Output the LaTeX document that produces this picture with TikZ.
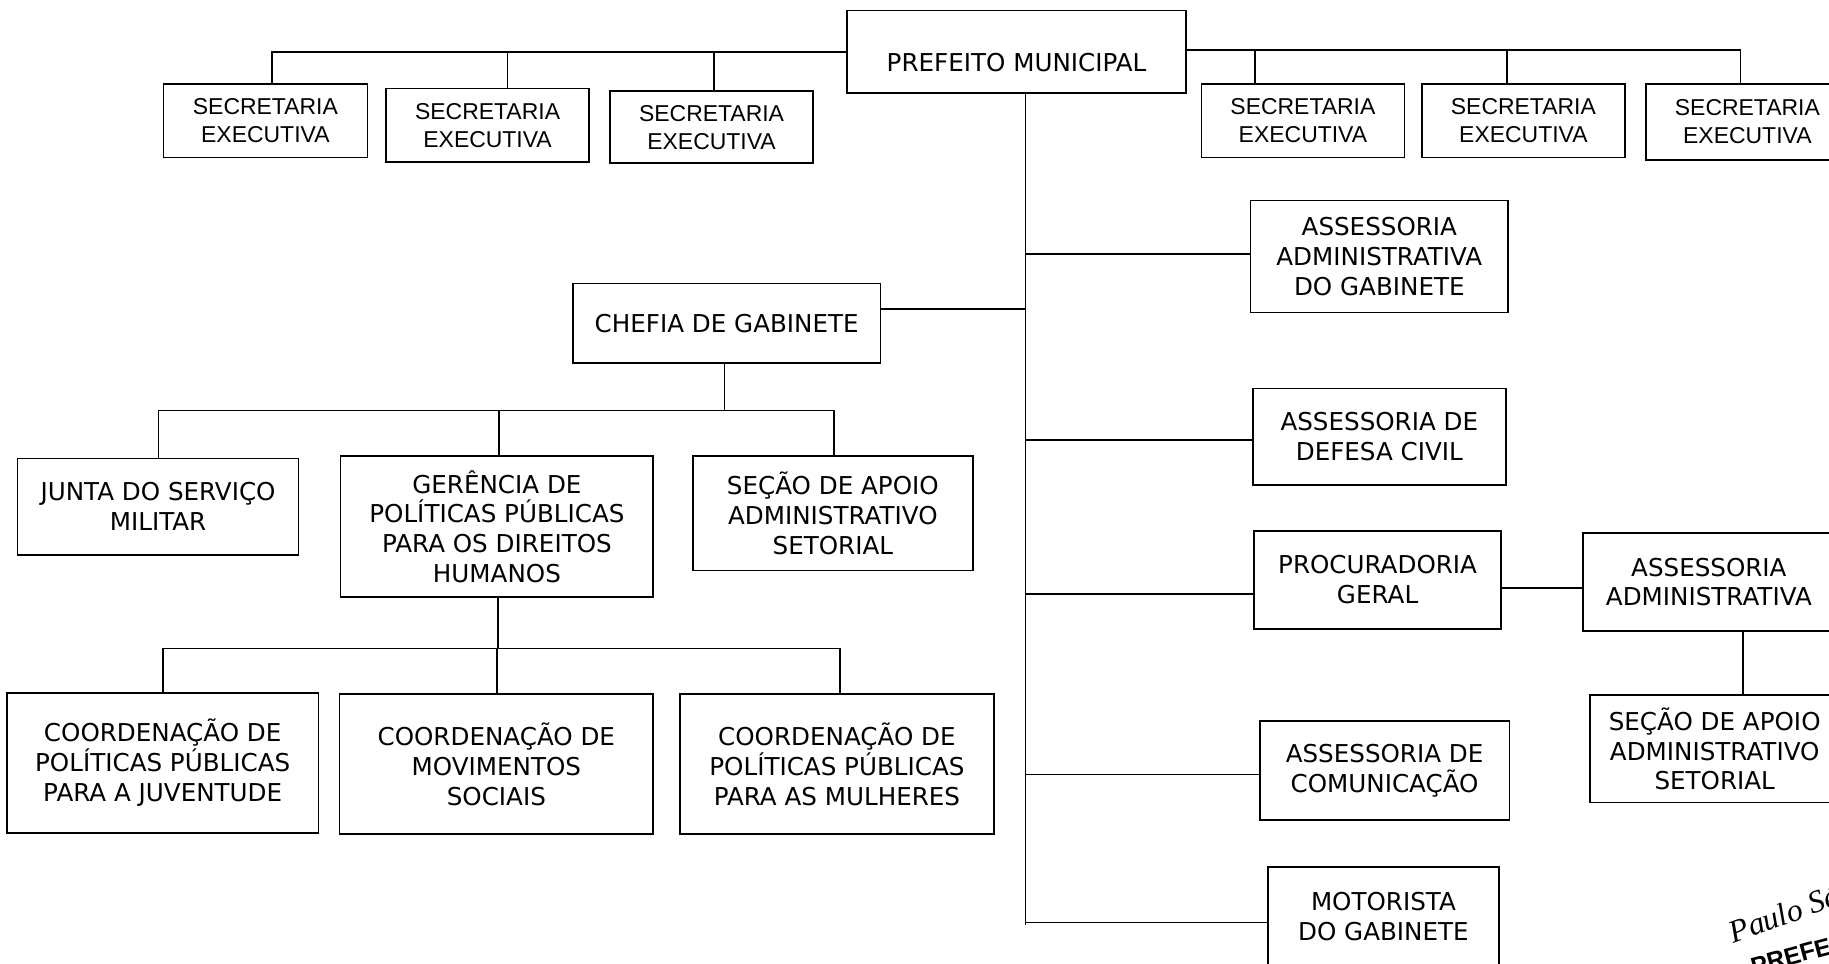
\documentclass[tikz,border=0pt]{standalone}
\usepackage{fontspec}
\newfontfamily\dvs{DejaVu Sans}
\newfontfamily\ars{Liberation Sans}
\newfontfamily\sigf{Liberation Serif}
\begin{document}
\begin{tikzpicture}[x=0.02cm,y=-0.02cm,
  box/.style={draw, line width=0.8pt, align=center, inner sep=0pt, font=\dvs\fontsize{12}{14.6}\selectfont},
  sbox/.style={box, font=\ars\fontsize{11.2}{13.7}\selectfont},
  conn/.style={line width=0.8pt}]
\useasboundingbox (0,0) rectangle (1568,825.6);
\clip (0,0) rectangle (1568,825.6);

% top level
\node[box, minimum width=5.82cm, minimum height=1.42cm, text height=0.75cm, text depth=0.08cm] (pref) at (871.5,44.5) {PREFEITO MUNICIPAL};
\node[sbox, minimum width=3.5cm, minimum height=1.26cm] (sec1) at (227.5,103.5) {SECRETARIA\\EXECUTIVA};
\node[sbox, minimum width=3.48cm, minimum height=1.26cm] (sec2) at (418,107.5) {SECRETARIA\\EXECUTIVA};
\node[sbox, minimum width=3.48cm, minimum height=1.24cm] (sec3) at (610,109) {SECRETARIA\\EXECUTIVA};
\node[sbox, minimum width=3.48cm, minimum height=1.26cm] (sec4) at (1117,103.5) {SECRETARIA\\EXECUTIVA};
\node[sbox, minimum width=3.48cm, minimum height=1.26cm] (sec5) at (1306,103.5) {SECRETARIA\\EXECUTIVA};
\node[sbox, minimum width=3.48cm, minimum height=1.30cm] (sec6) at (1498,104.5) {SECRETARIA\\EXECUTIVA};

% right column
\node[box, minimum width=4.42cm, minimum height=1.92cm] (aag) at (1182.5,220) {ASSESSORIA\\ADMINISTRATIVA\\DO GABINETE};
\node[box, minimum width=4.34cm, minimum height=1.66cm] (adc) at (1182.5,374.5) {ASSESSORIA DE\\DEFESA CIVIL};
\node[box, minimum width=4.24cm, minimum height=1.68cm] (pg) at (1181,497) {PROCURADORIA\\GERAL};
\node[box, minimum width=4.32cm, minimum height=1.68cm] (aa) at (1465,499) {ASSESSORIA\\ADMINISTRATIVA};
\node[box, minimum width=4.28cm, minimum height=1.84cm] (sa2) at (1470,642) {SEÇÃO DE APOIO\\ADMINISTRATIVO\\SETORIAL};
\node[box, minimum width=4.28cm, minimum height=1.70cm] (com) at (1187,660.5) {ASSESSORIA DE\\COMUNICAÇÃO};
\node[box, minimum width=3.96cm, minimum height=1.72cm] (mot) at (1186,786) {MOTORISTA\\DO GABINETE};

% left tree
\node[box, minimum width=5.28cm, minimum height=1.36cm] (chef) at (623,277) {CHEFIA DE GABINETE};
\node[box, minimum width=4.82cm, minimum height=1.66cm] (junta) at (135.5,434.5) {JUNTA DO SERVIÇO\\MILITAR};
\node[box, minimum width=5.36cm, minimum height=2.42cm] (ger) at (426,451.5) {GERÊNCIA DE\\POLÍTICAS PÚBLICAS\\PARA OS DIREITOS\\HUMANOS};
\node[box, minimum width=4.80cm, minimum height=1.96cm] (sa1) at (714,440) {SEÇÃO DE APOIO\\ADMINISTRATIVO\\SETORIAL};
\node[box, minimum width=5.34cm, minimum height=2.40cm] (c1) at (139.5,654) {COORDENAÇÃO DE\\POLÍTICAS PÚBLICAS\\PARA A JUVENTUDE};
\node[box, minimum width=5.38cm, minimum height=2.40cm] (c2) at (425.5,655) {COORDENAÇÃO DE\\MOVIMENTOS\\SOCIAIS};
\node[box, minimum width=5.38cm, minimum height=2.40cm] (c3) at (717.5,655) {COORDENAÇÃO DE\\POLÍTICAS PÚBLICAS\\PARA AS MULHERES};

% top buses
\coordinate (bl) at (233,44.5);
\coordinate (b2) at (435,44.5);
\coordinate (b3) at (612,44.5);
\coordinate (br) at (1492,43);
\coordinate (b4) at (1076,43);
\coordinate (b5) at (1292,43);
\draw[conn] (pref.west) -- (bl) -- (bl |- sec1.north);
\draw[conn] (b2) -- (b2 |- sec2.north);
\draw[conn] (b3) -- (b3 |- sec3.north);
\draw[conn] (pref.east |- br) -- (br) -- (br |- sec6.north);
\draw[conn] (b4) -- (b4 |- sec4.north);
\draw[conn] (b5) -- (b5 |- sec5.north);

% trunk
\coordinate (tb) at (879,793);
\draw[conn] (tb |- pref.south) -- (tb);
\coordinate (p0) at (879,265);
\coordinate (p1) at (879,218);
\coordinate (p2) at (879,377);
\coordinate (p3) at (879,509);
\coordinate (p4) at (879,664);
\coordinate (p5) at (879,791);
\draw[conn] (chef.east |- p0) -- (p0);
\draw[conn] (p1) -- (p1 -| aag.west);
\draw[conn] (p2) -- (p2 -| adc.west);
\draw[conn] (p3) -- (p3 -| pg.west);
\draw[conn] (p4) -- (p4 -| com.west);
\draw[conn] (p5) -- (p5 -| mot.west);

% procuradoria branch
\coordinate (q1) at (1320,504);
\draw[conn] (pg.east |- q1) -- (aa.west |- q1);
\coordinate (q2) at (1494,570);
\draw[conn] (aa.south -| q2) -- (sa2.north -| q2);

% chefia branch
\coordinate (cb) at (621,352);
\coordinate (cbl) at (136,352);
\coordinate (cbm) at (428,352);
\coordinate (cbr) at (715,352);
\draw[conn] (chef.south -| cb) -- (cb);
\draw[conn] (cbl |- junta.north) -- (cbl) -- (cbr) -- (cbr |- sa1.north);
\draw[conn] (cbm) -- (cbm |- ger.north);

% gerencia branch
\coordinate (gb) at (427,556);
\coordinate (gl) at (140,556);
\coordinate (gm) at (426,556);
\coordinate (gr) at (720,556);
\draw[conn] (ger.south -| gb) -- (gb);
\draw[conn] (gl |- c1.north) -- (gl) -- (gr) -- (gr |- c3.north);
\draw[conn] (gm) -- (gm |- c2.north);

% signature stamp (cut at the edge)
\node[rotate=20, anchor=base west, inner sep=0pt, font=\sigf\itshape\fontsize{15.5}{18}\selectfont] (sig) at (1486,809) {Paulo Sé};
\node[rotate=15, anchor=base west, inner sep=0pt, font=\ars\bfseries\fontsize{12}{14}\selectfont] (stamp) at (1503,836) {PREFE};
\end{tikzpicture}
\end{document}
